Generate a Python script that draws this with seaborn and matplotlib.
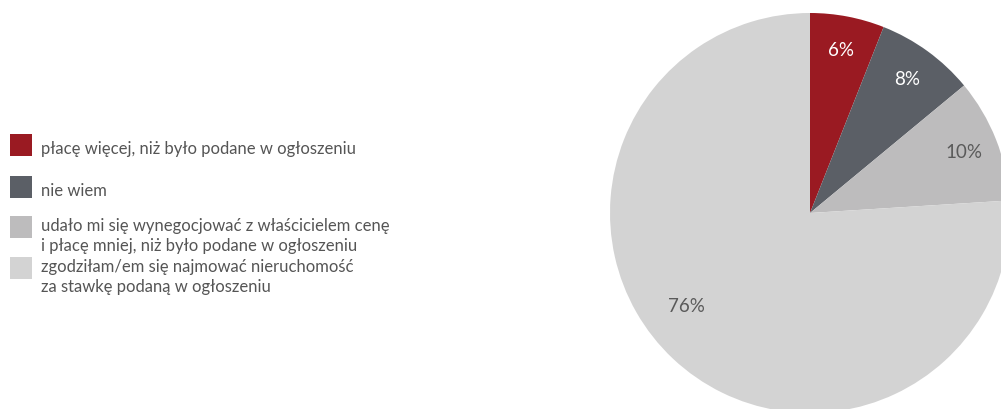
import matplotlib
matplotlib.use("Agg")
import matplotlib.pyplot as plt
from matplotlib.patches import Rectangle
import seaborn as sns

# Survey answers and their shares (%)
answers = [
    "płacę więcej, niż było podane w ogłoszeniu",
    "nie wiem",
    "udało mi się wynegocjować z właścicielem cenę\ni płacę mniej, niż było podane w ogłoszeniu",
    "zgodziłam/em się najmować nieruchomość\nza stawkę podaną w ogłoszeniu",
]
shares = [6, 8, 10, 76]

colors = ["#9a1a22", "#5b5f66", "#bdbcbd", "#d3d3d3"]
pct_colors = ["white", "white", "#5a5a5a", "#5a5a5a"]

sns.set_theme(style="white")
plt.rcParams["font.family"] = ["Lato", "DejaVu Sans"]

W, H = 1001, 410
fig = plt.figure(figsize=(W / 100, H / 100), dpi=100)
fig.patch.set_facecolor("white")

# Pie: centre at (810, 214) px, radius 200 px, clipped by the figure edge
cx, cy, r = 810, 214, 200
ax = fig.add_axes([(cx - r) / W, (H - cy - r) / H, 2 * r / W, 2 * r / H])
wedges, _, autotexts = ax.pie(
    shares,
    colors=colors,
    startangle=90,
    counterclock=False,
    autopct="%.0f%%",
    pctdistance=0.83,
    radius=1.0,
    wedgeprops=dict(linewidth=0),
    textprops=dict(fontsize=13.5),
)
for t, c in zip(autotexts, pct_colors):
    t.set_color(c)
# the large slice carries its label further round, towards the left
autotexts[3].set_position((-0.62, -0.465))
ax.set_xlim(-1, 1)
ax.set_ylim(-1, 1)
ax.set_aspect("equal")
ax.axis("off")

# Legend drawn as coloured squares with wrapped labels
box_tops = [135, 177, 217, 258]
first_baselines = [154, 196, 231, 272]
line_gap = 20
box = 22
for label, color, top, base in zip(answers, colors, box_tops, first_baselines):
    fig.patches.append(
        Rectangle((10 / W, (H - top - box) / H), box / W, box / H,
                  transform=fig.transFigure, facecolor=color, edgecolor="none")
    )
    for i, line in enumerate(label.split("\n")):
        fig.text(41 / W, (H - base - i * line_gap) / H, line,
                 fontsize=12.0, color="#555555", va="baseline", ha="left")

fig.savefig("out.png", dpi=100, facecolor="white")
